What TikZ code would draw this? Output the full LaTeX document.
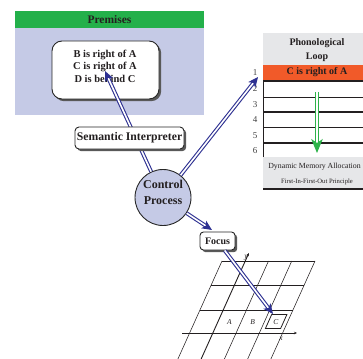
\documentclass[tikz,border=0pt]{standalone}
\usepackage{fontspec}
\setmainfont{Liberation Serif}
\usetikzlibrary{arrows.meta,shadows}
\definecolor{navy}{HTML}{2E3192}
\definecolor{lav}{HTML}{C5CAE6}
\definecolor{pgreen}{HTML}{23B04A}
\definecolor{agreen}{HTML}{2DB34A}
\definecolor{porange}{HTML}{F15A29}
\definecolor{lgray}{HTML}{E6E7E9}
\definecolor{ink}{HTML}{231F20}
\begin{document}
\begin{tikzpicture}[x=1pt,y=-1pt,
  every node/.style={text=ink,inner sep=0pt},
  boxnode/.style={draw=black!85,line width=0.9pt,fill=white,
    drop shadow={shadow xshift=2.2pt,shadow yshift=-2.2pt,fill=black!65,opacity=1}},
  bluearrow/.style={draw=navy,line width=1.1pt,double=white,double distance=1.6pt,
    -{Stealth[length=10pt,width=9pt,inset=2.5pt]}},
  greenarrow/.style={draw=agreen,line width=1.2pt,double=white,double distance=2pt,
    -{Stealth[length=14pt,width=11.5pt,inset=4pt]}},
  gridline/.style={draw=ink,line width=0.55pt},
  axisline/.style={draw=ink,line width=0.9pt},
  thickrule/.style={draw=ink,line width=1.8pt},
  thinrule/.style={draw=ink,line width=0.9pt},
  numlabel/.style={font=\fontsize{9}{10}\selectfont,text=black!75},
  celllabel/.style={font=\fontsize{7.5}{8}\selectfont\itshape}]
\useasboundingbox (0,0) rectangle (363,358);
\clip (0,0) rectangle (363,358);

% ---------- Premises panel
\fill[lav] (15,28) rectangle (204,115);
\fill[pgreen] (15,11) rectangle (204,28);
\node[font=\fontsize{11.5}{13}\selectfont\bfseries] (premTitle) at (109.5,19.5) {Premises};
\node[boxnode,rounded corners=10pt,minimum width=107pt,minimum height=58pt] (premBox) at (105.5,70) {};
\node[font=\fontsize{10.5}{12.5}\selectfont\bfseries,align=center] (premText) at (105,66)
  {B is right of A\\C is right of A\\D is behind C};

% ---------- Phonological loop panel
\fill[lgray] (263,33) rectangle (371,65);
\node[font=\fontsize{10}{14}\selectfont\bfseries,align=center] (plTitle) at (317,50) {Phonological\\Loop};
\fill[porange] (263,65) rectangle (371,80.5);
\node[font=\fontsize{10}{12}\selectfont\bfseries] (plItem) at (317,72.5) {C is right of A};
\draw[thickrule] (263,81) -- (371,81);
\draw[thinrule] (263,97) -- (371,97);
\draw[thickrule] (263,112) -- (371,112);
\draw[thinrule] (263,127) -- (371,127);
\draw[thickrule] (263,143) -- (371,143);
\draw[thinrule] (263,80) -- (263,157);
\fill[lgray] (263,157) rectangle (371,189);
\draw[line width=1.1pt,draw=ink] (263,189) -- (371,189);
\node[font=\fontsize{7.8}{10}\selectfont] (dma) at (314.5,167) {Dynamic Memory Allocation};
\node[font=\fontsize{6.6}{8}\selectfont] (fifo) at (317,182) {First-In-First-Out Principle};
\node[numlabel] (n1) at (255,73) {1};
\node[numlabel] (n2) at (255,89) {2};
\node[numlabel] (n3) at (255,104.5) {3};
\node[numlabel] (n4) at (255,120) {4};
\node[numlabel] (n5) at (255,135.5) {5};
\node[numlabel] (n6) at (255,150.5) {6};
\coordinate (gtop) at (317,92);
\coordinate (gbot) at (317,153);
\draw[greenarrow] (gtop) -- (gbot);

% ---------- Grid
\foreach \i in {0,2,3,4} {
  \draw[gridline] ({222+23.25*\i},261) -- ({222+23.25*\i-45},361);
}
\draw[axisline,-{Stealth[length=3pt,width=2.5pt]}] (200.25,361) -- (248.85,253);
\draw[gridline] (222,261) -- (315,261);
\draw[gridline] (211.2,285) -- (304.2,285);
\draw[gridline] (200,310) -- (293,310);
\draw[axisline,-{Stealth[length=3pt,width=2.5pt]}] (182,333) -- (297,333);
\draw[gridline,line width=0.8pt] (271.7,314.5) -- (286.9,314.5) -- (280.6,328.5) -- (265.4,328.5) -- cycle;
\node[celllabel] (la) at (229.4,322) {A};
\node[celllabel] (lb) at (252.7,322) {B};
\node[celllabel] (lc) at (275.9,322) {C};
\node[celllabel] (lx) at (281,339) {x};
\node[celllabel] (ly) at (246,258) {y};

% ---------- Control process and arrows
\node[circle,draw=black!85,fill=lav,line width=0.9pt,minimum size=56pt] (cp) at (163,197.5) {};
\node[font=\fontsize{12}{16}\selectfont\bfseries,align=center] (cpText) at (163,192) {Control\\Process};
\coordinate (premtip) at (105,71);
\coordinate (ptip) at (258,77);
\coordinate (foctip) at (212,230);
\coordinate (ctip) at (273,314);
\draw[bluearrow] (cp) -- (premtip);
\draw[bluearrow] (cp) -- (ptip);
\draw[bluearrow] (cp) -- (foctip);
\node[boxnode,rounded corners=4pt,minimum width=109pt,minimum height=22pt,
  font=\fontsize{11.7}{14}\selectfont\bfseries] (sem) at (129.5,138) {Semantic Interpreter};
\node[boxnode,rounded corners=3.5pt,minimum width=35pt,minimum height=18pt,
  font=\fontsize{10}{12}\selectfont\bfseries] (focus) at (217.5,241) {Focus};
\draw[bluearrow] (focus) -- (ctip);
\end{tikzpicture}
\end{document}
